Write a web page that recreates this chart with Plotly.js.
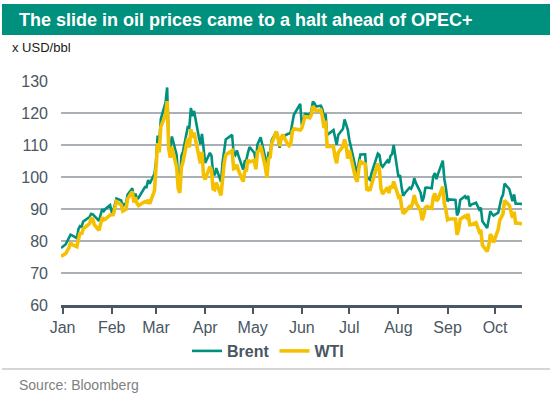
<!DOCTYPE html>
<html>
<head>
<meta charset="utf-8">
<script src="https://cdn.plot.ly/plotly-3.0.1.min.js"></script>
<style>
html,body{margin:0;padding:0;background:#fff;}
#chart{width:552px;height:397px;}
</style>
</head>
<body>
<div id="chart"></div>
<script>
var titleText = "The slide in oil prices came to a halt ahead of OPEC+";
var unitLabel = "x USD/bbl";
var sourceText = "Source: Bloomberg";
var seriesNames = ["Brent", "WTI"];
var yTicks = [60, 70, 80, 90, 100, 110, 120, 130];

var dates = [
"2021-12-31",
"2022-01-03","2022-01-04","2022-01-05","2022-01-06","2022-01-07","2022-01-10","2022-01-11","2022-01-12","2022-01-13","2022-01-14",
"2022-01-18","2022-01-19","2022-01-20","2022-01-21","2022-01-24","2022-01-25","2022-01-26","2022-01-27","2022-01-28","2022-01-31",
"2022-02-01","2022-02-02","2022-02-03","2022-02-04","2022-02-07","2022-02-08","2022-02-09","2022-02-10","2022-02-11","2022-02-14",
"2022-02-15","2022-02-16","2022-02-17","2022-02-18","2022-02-22","2022-02-23","2022-02-24","2022-02-25","2022-02-28",
"2022-03-01","2022-03-02","2022-03-03","2022-03-04","2022-03-07","2022-03-08","2022-03-09","2022-03-10","2022-03-11","2022-03-14",
"2022-03-15","2022-03-16","2022-03-17","2022-03-18","2022-03-21","2022-03-22","2022-03-23","2022-03-24","2022-03-25","2022-03-28",
"2022-03-29","2022-03-30","2022-03-31",
"2022-04-01","2022-04-04","2022-04-05","2022-04-06","2022-04-07","2022-04-08","2022-04-11","2022-04-12","2022-04-13","2022-04-14",
"2022-04-18","2022-04-19","2022-04-20","2022-04-21","2022-04-22","2022-04-25","2022-04-26","2022-04-27","2022-04-28","2022-04-29",
"2022-05-02","2022-05-03","2022-05-04","2022-05-05","2022-05-06","2022-05-09","2022-05-10","2022-05-11","2022-05-12","2022-05-13",
"2022-05-16","2022-05-17","2022-05-18","2022-05-19","2022-05-20","2022-05-23","2022-05-24","2022-05-25","2022-05-26","2022-05-27",
"2022-05-31",
"2022-06-01","2022-06-02","2022-06-03","2022-06-06","2022-06-07","2022-06-08","2022-06-09","2022-06-10","2022-06-13","2022-06-14",
"2022-06-15","2022-06-16","2022-06-17","2022-06-21","2022-06-22","2022-06-23","2022-06-24","2022-06-27","2022-06-28","2022-06-29",
"2022-06-30",
"2022-07-01","2022-07-05","2022-07-06","2022-07-07","2022-07-08","2022-07-11","2022-07-12","2022-07-13","2022-07-14","2022-07-15",
"2022-07-18","2022-07-19","2022-07-20","2022-07-21","2022-07-22","2022-07-25","2022-07-26","2022-07-27","2022-07-28","2022-07-29",
"2022-08-01","2022-08-02","2022-08-03","2022-08-04","2022-08-05","2022-08-08","2022-08-09","2022-08-10","2022-08-11","2022-08-12",
"2022-08-15","2022-08-16","2022-08-17","2022-08-18","2022-08-19","2022-08-22","2022-08-23","2022-08-24","2022-08-25","2022-08-26",
"2022-08-29","2022-08-30","2022-08-31",
"2022-09-01","2022-09-02","2022-09-06","2022-09-07","2022-09-08","2022-09-09","2022-09-12","2022-09-13","2022-09-14","2022-09-15",
"2022-09-16","2022-09-19","2022-09-20","2022-09-21","2022-09-22","2022-09-23","2022-09-26","2022-09-27","2022-09-28","2022-09-29",
"2022-09-30",
"2022-10-03","2022-10-04","2022-10-05","2022-10-06","2022-10-07","2022-10-10","2022-10-11","2022-10-12","2022-10-13","2022-10-14",
"2022-10-17","2022-10-18"
];

var brent = [
77.78,
78.98,80.00,80.80,81.99,81.75,80.87,83.72,84.67,84.47,86.06,87.51,88.44,88.38,87.89,86.27,88.20,89.96,89.34,90.03,91.21,
89.16,89.47,91.11,93.27,92.69,90.78,91.55,91.41,94.44,96.48,93.28,94.81,92.97,93.54,96.84,96.84,99.08,97.93,100.99,
104.97,112.93,110.46,118.11,123.21,127.98,111.14,109.33,112.67,106.90,99.91,98.02,106.64,107.93,115.62,115.48,121.60,119.03,120.65,112.48,110.23,113.45,107.91,
104.39,107.53,106.64,101.07,100.58,102.78,98.48,104.64,108.78,111.70,113.16,107.25,106.80,108.33,106.65,102.32,104.99,105.32,107.59,109.34,
107.58,104.97,110.14,111.55,112.39,105.94,102.46,107.51,107.45,111.55,114.24,111.93,109.11,112.04,112.55,113.42,113.56,114.03,117.40,119.43,122.84,
116.29,117.61,119.72,119.51,120.57,123.58,123.07,122.01,122.27,121.17,118.51,119.81,113.12,114.65,111.74,110.05,113.12,115.09,117.98,116.26,114.81,
111.63,102.77,100.69,104.65,107.02,107.10,99.49,99.57,99.10,101.16,106.27,107.35,106.92,103.86,103.20,105.15,104.40,106.62,107.14,110.01,
100.03,100.54,96.78,94.12,94.92,96.65,96.31,97.40,99.60,98.15,95.10,92.34,93.65,96.59,96.72,96.48,100.22,101.22,99.34,100.99,105.09,99.31,96.49,
92.36,93.02,92.83,88.00,89.15,92.84,94.00,93.17,94.10,90.84,91.35,92.00,90.62,89.83,90.46,86.15,84.06,86.27,89.32,88.49,87.96,
88.86,91.80,93.37,94.42,97.92,96.19,94.29,92.45,94.57,91.63,91.62,91.50
];

var wti = [
75.21,
76.08,76.99,77.85,79.46,78.90,78.23,81.22,82.64,82.12,83.82,85.43,86.96,86.90,85.14,83.31,85.60,87.35,86.61,86.82,88.15,
88.20,88.26,90.27,92.31,91.32,89.36,89.66,89.88,93.10,95.46,92.07,93.66,91.76,91.07,92.35,92.10,92.81,91.59,95.72,
103.41,110.60,107.67,115.68,119.40,123.70,108.70,106.02,109.33,103.01,96.44,95.04,102.98,104.70,112.12,109.27,114.93,112.34,113.90,105.96,104.24,107.82,100.28,
99.27,103.28,101.96,96.23,96.03,98.26,94.29,100.60,104.25,106.95,108.21,102.56,102.75,103.79,102.07,98.54,101.70,102.02,105.36,104.69,
105.17,102.41,107.81,108.26,109.77,103.09,99.76,105.71,106.13,110.49,114.20,112.40,109.59,112.21,113.23,110.29,109.77,110.33,114.09,115.07,114.67,
115.26,116.87,118.87,118.50,119.41,122.11,121.51,120.67,120.93,118.93,115.31,117.59,109.56,109.52,106.19,104.27,107.62,109.57,111.76,109.78,105.76,
108.43,99.50,98.53,102.73,104.79,104.09,95.84,96.30,95.78,97.59,102.60,104.22,102.26,96.35,94.70,96.70,94.98,97.26,96.42,98.62,
93.89,94.42,90.66,88.54,89.01,90.76,90.50,91.93,94.34,92.09,89.41,86.53,88.11,90.50,90.77,90.23,93.74,94.89,92.52,93.06,97.01,91.64,89.55,
86.61,86.87,86.88,81.94,83.54,86.79,87.78,87.31,88.48,85.10,85.11,85.73,84.45,82.94,83.49,78.74,76.71,78.50,82.15,81.23,79.49,
83.63,86.52,87.76,88.45,92.64,91.13,89.35,87.27,89.11,85.61,85.46,85.30
];

// layout geometry (pixels)
var W = 552, H = 397;
var mL = 61, mR = 30, mT = 81, mB = 92;
var plotW = W - mL - mR, plotH = H - mT - mB;
function px2x(px){ return (px - mL) / plotW; }
function py2y(py){ return (H - mB - py) / plotH; }

var FONT = "Liberation Sans, Arial, sans-serif";
var TEAL = "#00907e";
var GOLD = "#f5c000";
var AXC = "#4a5661";

var traces = [
  {x: dates, y: brent, name: seriesNames[0], type: "scatter", mode: "lines",
   line: {color: TEAL, width: 2.6}},
  {x: dates, y: wti, name: seriesNames[1], type: "scatter", mode: "lines",
   line: {color: GOLD, width: 3.6}}
];

var layout = {
  width: W, height: H,
  margin: {l: mL, r: mR, t: mT, b: mB, pad: 0},
  paper_bgcolor: "#ffffff", plot_bgcolor: "#ffffff",
  font: {family: FONT, color: AXC},
  showlegend: true,
  title: {text: titleText, x: 19/W, xanchor: "left", xref: "container",
          y: 1 - 20/H, yanchor: "middle", yref: "container",
          font: {family: FONT, size: 18, color: "#ffffff", weight: 700}},
  xaxis: {type: "date", range: ["2021-12-31", "2022-10-18"],
          tick0: "2022-01-01", dtick: "M1", tickformat: "%b",
          ticks: "outside", ticklen: 6, tickwidth: 2, tickcolor: AXC,
          showline: true, linewidth: 3, linecolor: AXC,
          showgrid: false, zeroline: false,
          tickfont: {family: FONT, size: 16, color: AXC}},
  yaxis: {range: [60, 130], tickvals: yTicks, ticktext: yTicks.map(String),
          showgrid: true, gridcolor: "#aab0b5", gridwidth: 1.6,
          zeroline: false, showline: false, ticks: "",
          ticklabelstandoff: 12,
          tickfont: {family: FONT, size: 16, color: AXC}},
  legend: {orientation: "h", x: px2x(268), xanchor: "center",
           y: py2y(351), yanchor: "middle",
           font: {family: FONT, size: 16, color: AXC, weight: 700},
           itemwidth: 30, bgcolor: "rgba(0,0,0,0)"},
  shapes: [
    {type: "rect", xref: "paper", yref: "paper",
     x0: px2x(2), x1: px2x(550), y0: py2y(35), y1: py2y(4),
     fillcolor: TEAL, line: {width: 0}, layer: "below"},
    {type: "line", xref: "paper", yref: "paper",
     x0: px2x(2), x1: px2x(550), y0: py2y(369), y1: py2y(369),
     line: {color: "#c8c8c8", width: 1.5}}
  ],
  annotations: [
    {text: unitLabel, xref: "paper", yref: "paper", x: px2x(10), y: py2y(48),
     xanchor: "left", yanchor: "middle", showarrow: false,
     font: {family: FONT, size: 13, color: "#1a1a1a"}},
    {text: sourceText, xref: "paper", yref: "paper", x: px2x(17), y: py2y(385),
     xanchor: "left", yanchor: "middle", showarrow: false,
     font: {family: FONT, size: 14, color: "#808080"}}
  ]
};

Plotly.newPlot("chart", traces, layout, {staticPlot: true, displayModeBar: false});
</script>
</body>
</html>
